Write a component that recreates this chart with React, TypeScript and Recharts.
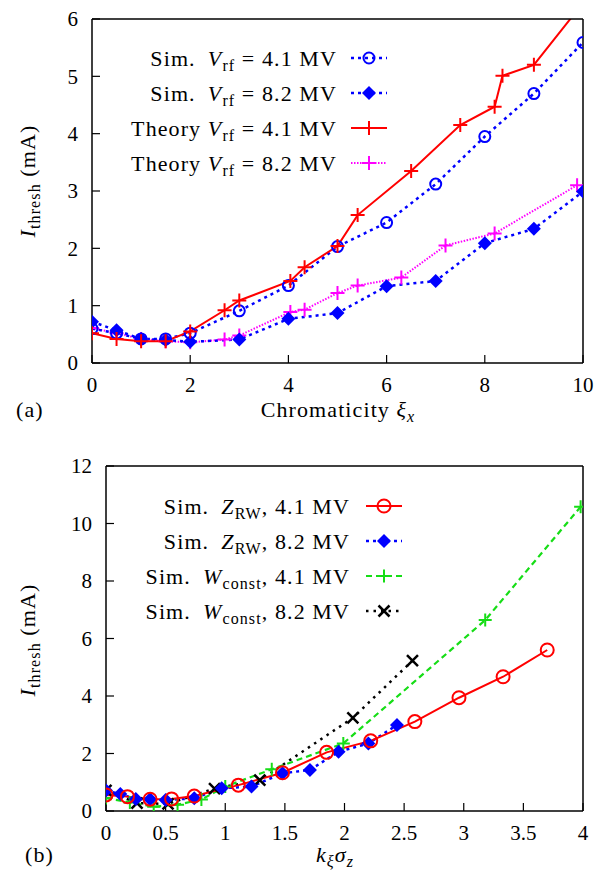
import React from 'react';
import { LineChart, Line, XAxis, YAxis, Legend } from 'recharts';

const FONT = 'Liberation Serif, DejaVu Serif, serif';

// ---------- (a) threshold current vs chromaticity ----------
const simXi = [0, 0.5, 1, 1.5, 2, 3, 4, 5, 6, 7, 8, 9, 10];
const simI41 = [0.6, 0.52, 0.42, 0.42, 0.52, 0.91, 1.35, 2.03, 2.45, 3.12, 3.95, 4.7, 5.59];
const simI82 = [0.72, 0.57, 0.42, 0.4, 0.37, 0.41, 0.77, 0.87, 1.34, 1.43, 2.09, 2.34, 2.99];
const theoryXi41 = [0, 0.5, 1, 1.5, 2, 2.7, 3, 4.04, 4.33, 5, 5.41, 6.5, 7.5, 8.2, 8.36, 9, 10];
const theoryI41 = [0.52, 0.42, 0.38, 0.38, 0.55, 0.92, 1.09, 1.43, 1.67, 2.04, 2.58, 3.35, 4.15, 4.47, 5.01, 5.2, 6.28];
const theoryXi82 = [0, 0.5, 1, 1.5, 2, 2.7, 3, 4.04, 4.33, 5, 5.41, 6.3, 7.2, 8.2, 9.88];
const theoryI82 = [0.61, 0.52, 0.42, 0.38, 0.36, 0.41, 0.48, 0.89, 0.93, 1.22, 1.35, 1.49, 2.05, 2.26, 3.1];
const xTicksA = [0, 2, 4, 6, 8, 10];
const yTicksA = [0, 1, 2, 3, 4, 5, 6];

// ---------- (b) threshold current vs k_xi sigma_z ----------
const zrw41X = [0, 0.18, 0.37, 0.55, 0.74, 1.11, 1.48, 1.85, 2.22, 2.59, 2.96, 3.33, 3.7];
const zrw41Y = [0.56, 0.5, 0.41, 0.42, 0.52, 0.9, 1.33, 2.04, 2.44, 3.11, 3.94, 4.67, 5.6];
const zrw82X = [0, 0.12, 0.25, 0.37, 0.5, 0.74, 0.97, 1.22, 1.48, 1.71, 1.95, 2.2, 2.44];
const zrw82Y = [0.71, 0.59, 0.42, 0.41, 0.38, 0.44, 0.79, 0.85, 1.31, 1.43, 2.06, 2.35, 2.99];
const wc41X = [0, 0.2, 0.4, 0.6, 0.8, 1.0, 1.39, 1.99, 3.18, 3.98];
const wc41Y = [0.45, 0.3, 0.15, 0.22, 0.4, 0.85, 1.45, 2.35, 6.64, 10.58];
const wc82X = [0, 0.26, 0.52, 0.91, 1.29, 2.07, 2.57];
const wc82Y = [0.72, 0.27, 0.25, 0.78, 1.07, 3.24, 5.23];
const xTicksB = [0, 0.5, 1, 1.5, 2, 2.5, 3, 3.5, 4];
const yTicksB = [0, 2, 4, 6, 8, 10, 12];

const pts = (xs: number[], ys: number[]) => xs.map((x, i) => ({ x, y: ys[i] }));

const BLUE = '#0000ff';
const RED = '#ff0000';
const MAGENTA = '#ff00ff';
const GREEN = '#16dd16';
const BLACK = '#000000';

// ---------- marker shapes ----------
const OpenCircle = ({ cx, cy, color, r, sw }: any) => (
  <circle cx={cx} cy={cy} r={r} fill="none" stroke={color} strokeWidth={sw} />
);
const Diamond = ({ cx, cy, color, s }: any) => (
  <polygon points={`${cx},${cy - s} ${cx + s},${cy} ${cx},${cy + s} ${cx - s},${cy}`} fill={color} stroke="none" />
);
const Plus = ({ cx, cy, color, s, sw }: any) => (
  <path d={`M${cx - s},${cy}H${cx + s}M${cx},${cy - s}V${cy + s}`} stroke={color} strokeWidth={sw} fill="none" />
);
const Cross = ({ cx, cy, color, s, sw }: any) => (
  <path d={`M${cx - s},${cy - s}L${cx + s},${cy + s}M${cx - s},${cy + s}L${cx + s},${cy - s}`} stroke={color} strokeWidth={sw} fill="none" />
);

const dotOf = (Comp: any, extra: any) => (p: any) => (
  <Comp key={`d-${p.index}`} cx={p.cx} cy={p.cy} {...extra} />
);

const mk = {
  circA: { color: BLUE, r: 5.5, sw: 2 },
  diaA: { color: BLUE, s: 7 },
  plusRed: { color: RED, s: 7, sw: 2 },
  plusMag: { color: MAGENTA, s: 7, sw: 2 },
  circB: { color: RED, r: 6.5, sw: 2 },
  diaB: { color: BLUE, s: 7 },
  plusGreen: { color: GREEN, s: 6.5, sw: 2 },
  crossB: { color: BLACK, s: 5.5, sw: 2.5 },
};

const styles = {
  blueDot: { stroke: BLUE, strokeWidth: 2.5, strokeDasharray: '3 4' },
  redSolid: { stroke: RED, strokeWidth: 2 },
  magDot: { stroke: MAGENTA, strokeWidth: 2, strokeDasharray: '1.5 1.5' },
  greenDash: { stroke: GREEN, strokeWidth: 2.2, strokeDasharray: '6 4' },
  blackDot: { stroke: BLACK, strokeWidth: 2.5, strokeDasharray: '2.5 5' },
};

const FS = 21;
const LFS = 22;
const LS = 1.1;
const tickStyle = { fontFamily: FONT, fontSize: FS, fill: '#000' };

const Sub = ({ children, after }: any) => (
  <>
    <tspan dy={5} fontSize={16}>{children}</tspan>
    <tspan dy={-5}>{after}</tspan>
  </>
);

const Sample = ({ x, y, line, Marker, m }: any) => (
  <g>
    <line x1={x} x2={x + 36} y1={y} y2={y} {...line} fill="none" />
    <Marker cx={x + 18} cy={y} {...m} />
  </g>
);

const OverlayA = () => (
  <svg width={606} height={440} style={{ overflow: 'visible', display: 'block' }}>
    <g fontFamily={FONT} fontSize={LFS} fill="#000" letterSpacing={LS}>
      <text x={337} y={58} dy="0.35em" textAnchor="end">
        {'Sim.\u2002'}<tspan fontStyle="italic">V</tspan><Sub after={' = 4.1 MV'}>rf</Sub>
      </text>
      <text x={337} y={93} dy="0.35em" textAnchor="end">
        {'Sim.\u2002'}<tspan fontStyle="italic">V</tspan><Sub after={' = 8.2 MV'}>rf</Sub>
      </text>
      <text x={337} y={128} dy="0.35em" textAnchor="end">
        {'Theory '}<tspan fontStyle="italic">V</tspan><Sub after={' = 4.1 MV'}>rf</Sub>
      </text>
      <text x={337} y={163} dy="0.35em" textAnchor="end">
        {'Theory '}<tspan fontStyle="italic">V</tspan><Sub after={' = 8.2 MV'}>rf</Sub>
      </text>
      <text x={338} y={417} textAnchor="middle">
        {'Chromaticity '}<tspan fontStyle="italic">ξ</tspan><tspan dy={5} fontSize={16} fontStyle="italic">x</tspan>
      </text>
      <text x={16} y={417}>(a)</text>
      <text transform="translate(35,181) rotate(-90)" textAnchor="middle">
        <tspan fontStyle="italic">I</tspan><Sub after={' (mA)'}>thresh</Sub>
      </text>
    </g>
    <Sample x={351} y={58} line={styles.blueDot} Marker={OpenCircle} m={mk.circA} />
    <Sample x={351} y={93} line={styles.blueDot} Marker={Diamond} m={mk.diaA} />
    <Sample x={351} y={128} line={styles.redSolid} Marker={Plus} m={mk.plusRed} />
    <Sample x={351} y={163} line={styles.magDot} Marker={Plus} m={mk.plusMag} />
  </svg>
);

const OverlayB = () => (
  <svg width={606} height={438} style={{ overflow: 'visible', display: 'block' }}>
    <g fontFamily={FONT} fontSize={LFS} fill="#000" letterSpacing={LS}>
      <text x={350} y={66} dy="0.35em" textAnchor="end">
        {'Sim.\u2002'}<tspan fontStyle="italic">Z</tspan><Sub after={', 4.1 MV'}>RW</Sub>
      </text>
      <text x={350} y={101} dy="0.35em" textAnchor="end">
        {'Sim.\u2002'}<tspan fontStyle="italic">Z</tspan><Sub after={', 8.2 MV'}>RW</Sub>
      </text>
      <text x={350} y={136} dy="0.35em" textAnchor="end">
        {'Sim.\u2002'}<tspan fontStyle="italic">W</tspan><Sub after={', 4.1 MV'}>const</Sub>
      </text>
      <text x={350} y={171} dy="0.35em" textAnchor="end">
        {'Sim.\u2002'}<tspan fontStyle="italic">W</tspan><Sub after={', 8.2 MV'}>const</Sub>
      </text>
      <text x={335} y={422} textAnchor="middle" fontStyle="italic">
        k<tspan dy={5} fontSize={16}>ξ</tspan><tspan dy={-5}>σ</tspan><tspan dy={5} fontSize={16}>z</tspan>
      </text>
      <text x={25} y={422}>(b)</text>
      <text transform="translate(35,200) rotate(-90)" textAnchor="middle">
        <tspan fontStyle="italic">I</tspan><Sub after={' (mA)'}>thresh</Sub>
      </text>
    </g>
    <Sample x={366} y={66} line={styles.redSolid} Marker={OpenCircle} m={mk.circB} />
    <Sample x={366} y={101} line={styles.blueDot} Marker={Diamond} m={mk.diaB} />
    <Sample x={366} y={136} line={styles.greenDash} Marker={Plus} m={mk.plusGreen} />
    <Sample x={366} y={171} line={styles.blackDot} Marker={Cross} m={mk.crossB} />
  </svg>
);

const axisLine = { stroke: '#000', strokeWidth: 1.5 };
const tickLine = { stroke: '#000', strokeWidth: 1.2 };

const legendWrap = (h: number) => ({
  position: 'absolute' as const,
  left: 0,
  top: 0,
  width: 606,
  height: h,
  margin: 0,
  padding: 0,
  pointerEvents: 'none' as const,
});

export default function App() {
  return (
    <div style={{ position: 'absolute', left: 0, top: 0, width: 606, height: 878, background: '#fff' }}>
      <div style={{ position: 'absolute', left: 0, top: 0 }}>
        <LineChart width={606} height={440} margin={{ top: 18, right: 22, bottom: 47, left: 32 }}>
          <XAxis dataKey="x" type="number" domain={[0, 10]} ticks={xTicksA} allowDataOverflow
            height={30} tick={tickStyle} tickSize={-8} tickMargin={22} axisLine={axisLine} tickLine={tickLine} />
          <XAxis xAxisId="t" orientation="top" dataKey="x" type="number" domain={[0, 10]} ticks={xTicksA} allowDataOverflow
            height={1} tick={false} tickSize={-8} axisLine={axisLine} tickLine={tickLine} />
          <YAxis type="number" domain={[0, 6]} ticks={yTicksA} allowDataOverflow
            width={60} tick={tickStyle} tickSize={-8} tickMargin={22} axisLine={axisLine} tickLine={tickLine} />
          <YAxis yAxisId="r" orientation="right" type="number" domain={[0, 6]} ticks={yTicksA} allowDataOverflow
            width={1} tick={false} tickSize={-8} axisLine={axisLine} tickLine={tickLine} />
          <Line data={pts(theoryXi82, theoryI82)} dataKey="y" {...styles.magDot} fill="none" isAnimationActive={false}
            dot={dotOf(Plus, mk.plusMag)} activeDot={false} />
          <Line data={pts(simXi, simI82)} dataKey="y" {...styles.blueDot} fill="none" isAnimationActive={false}
            dot={dotOf(Diamond, mk.diaA)} activeDot={false} />
          <Line data={pts(simXi, simI41)} dataKey="y" {...styles.blueDot} fill="none" isAnimationActive={false}
            dot={dotOf(OpenCircle, mk.circA)} activeDot={false} />
          <Line data={pts(theoryXi41, theoryI41)} dataKey="y" {...styles.redSolid} fill="none" isAnimationActive={false}
            dot={dotOf(Plus, mk.plusRed)} activeDot={false} />
          <Legend layout="horizontal" verticalAlign="middle" align="center" wrapperStyle={legendWrap(440)}
            content={() => <OverlayA />} />
        </LineChart>
      </div>
      <div style={{ position: 'absolute', left: 0, top: 440 }}>
        <LineChart width={606} height={438} margin={{ top: 25, right: 22, bottom: 37, left: 46 }}>
          <XAxis dataKey="x" type="number" domain={[0, 4]} ticks={xTicksB} allowDataOverflow
            height={30} tick={tickStyle} tickSize={-8} tickMargin={22} axisLine={axisLine} tickLine={tickLine} />
          <XAxis xAxisId="t" orientation="top" dataKey="x" type="number" domain={[0, 4]} ticks={xTicksB} allowDataOverflow
            height={1} tick={false} tickSize={-8} axisLine={axisLine} tickLine={tickLine} />
          <YAxis type="number" domain={[0, 12]} ticks={yTicksB} allowDataOverflow
            width={60} tick={tickStyle} tickSize={-8} tickMargin={22} axisLine={axisLine} tickLine={tickLine} />
          <YAxis yAxisId="r" orientation="right" type="number" domain={[0, 12]} ticks={yTicksB} allowDataOverflow
            width={1} tick={false} tickSize={-8} axisLine={axisLine} tickLine={tickLine} />
          <Line data={pts(wc82X, wc82Y)} dataKey="y" {...styles.blackDot} fill="none" isAnimationActive={false}
            dot={dotOf(Cross, mk.crossB)} activeDot={false} />
          <Line data={pts(wc41X, wc41Y)} dataKey="y" {...styles.greenDash} fill="none" isAnimationActive={false}
            dot={dotOf(Plus, mk.plusGreen)} activeDot={false} />
          <Line data={pts(zrw82X, zrw82Y)} dataKey="y" {...styles.blueDot} fill="none" isAnimationActive={false}
            dot={dotOf(Diamond, mk.diaB)} activeDot={false} />
          <Line data={pts(zrw41X, zrw41Y)} dataKey="y" {...styles.redSolid} fill="none" isAnimationActive={false}
            dot={dotOf(OpenCircle, mk.circB)} activeDot={false} />
          <Legend layout="horizontal" verticalAlign="middle" align="center" wrapperStyle={legendWrap(438)}
            content={() => <OverlayB />} />
        </LineChart>
      </div>
    </div>
  );
}
